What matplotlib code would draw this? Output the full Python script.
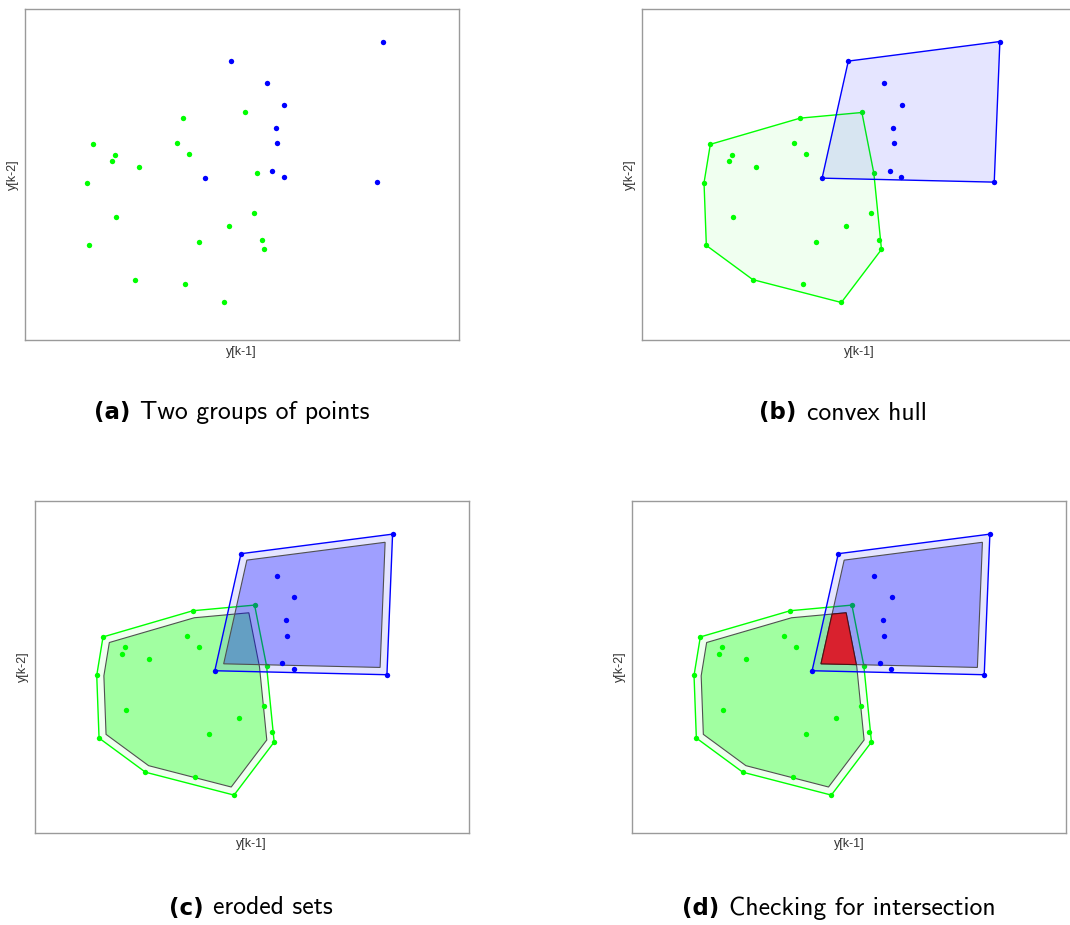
import numpy as np
import matplotlib
matplotlib.use("Agg")
import matplotlib.pyplot as plt
from matplotlib.patches import Polygon

# samples of the two groups in the (y[k-1], y[k-2]) plane
green_x = [4.77, 6.63, 2.06, 4.58, 2.72, 4.95, 2.63, 3.45, 6.99, 1.87,
           2.75, 6.91, 6.16, 1.94, 5.26, 7.16, 7.22, 3.34, 4.84, 6.01]
green_y = [6.70, 6.87, 5.91, 5.95, 5.60, 5.62, 5.40, 5.23, 5.04, 4.75,
           3.71, 3.83, 3.45, 2.86, 2.97, 3.03, 2.74, 1.83, 1.70, 1.14]
blue_x = [10.79, 6.22, 7.31, 7.83, 7.57, 7.60, 7.47, 7.82, 5.43, 10.62]
blue_y = [9.01, 8.42, 7.75, 7.11, 6.41, 5.94, 5.11, 4.93, 4.89, 4.77]

tags = ["(a)", "(b)", "(c)", "(d)"]
titles = ["Two groups of points", "convex hull", "eroded sets", "Checking for intersection"]

erosion = 0.215
GREEN = '#00ff00'
BLUE = '#0000ff'


def convexHull(pts):
    '''
    Monotone chain, returns the hull counter clockwise
    '''
    pts = sorted(set(map(tuple, pts)))
    def cross(o, a, b):
        return (a[0] - o[0]) * (b[1] - o[1]) - (a[1] - o[1]) * (b[0] - o[0])
    lower = []
    for p in pts:
        while len(lower) >= 2 and cross(lower[-2], lower[-1], p) <= 0:
            lower.pop()
        lower.append(p)
    upper = []
    for p in reversed(pts):
        while len(upper) >= 2 and cross(upper[-2], upper[-1], p) <= 0:
            upper.pop()
        upper.append(p)
    return np.array(lower[:-1] + upper[:-1])


def clipHalfPlane(poly, a, n, off):
    # keep the part of poly where n.(p - a) >= off
    res = []
    m = len(poly)
    for i in range(m):
        p = poly[i]
        q = poly[(i + 1) % m]
        dp = np.dot(n, p - a) - off
        dq = np.dot(n, q - a) - off
        if dp >= 0:
            res.append(p)
        if dp * dq < 0:
            t = dp / (dp - dq)
            res.append(p + t * (q - p))
    return np.array(res)


def shrink(poly, clipper, r):
    '''
    Clips poly with every inner half plane of the convex clipper moved inward by r
    r > 0 with poly == clipper gives the erosion by a disk, r = 0 the intersection
    '''
    out = poly
    for i in range(len(clipper)):
        a = clipper[i]
        e = clipper[(i + 1) % len(clipper)] - a
        n = np.array([-e[1], e[0]]) / np.hypot(e[0], e[1])
        out = clipHalfPlane(out, a, n, r)
    return out


green = np.column_stack([green_x, green_y])
blue = np.column_stack([blue_x, blue_y])
greenHull = convexHull(green)
blueHull = convexHull(blue)
greenEroded = shrink(greenHull, greenHull, erosion)
blueEroded = shrink(blueHull, blueHull, erosion)
overlap = shrink(greenEroded, blueEroded, 0)


def drawGroup(ax, pts, hull, eroded, color, hullAlpha, erodedAlpha):
    if hull is not None:
        ax.add_patch(Polygon(hull, closed=True, facecolor=color, alpha=hullAlpha, edgecolor='none', zorder=1))
    if eroded is not None:
        ax.add_patch(Polygon(eroded, closed=True, facecolor=color, alpha=erodedAlpha, edgecolor='none', zorder=1))
        ax.add_patch(Polygon(eroded, closed=True, facecolor='none', edgecolor='#505050', lw=0.8, zorder=1))
    if hull is not None:
        ax.add_patch(Polygon(hull, closed=True, facecolor='none', edgecolor=color, lw=1.0, zorder=1))
    ax.scatter(pts[:, 0], pts[:, 1], s=15, c=color, linewidths=0, zorder=1)


fig = plt.figure(figsize=(10.7, 9.25), dpi=100)
positions = [(24.7, 8.7), (642, 8.7), (34.7, 501.3), (632, 501.3)]
captionPos = [(231.7, 413), (843, 413), (251, 908), (838.5, 908)]
W, H = 1070.0, 925.0

axes = []
for (px, py) in positions:
    ax = fig.add_axes([px / W, 1 - (py + 331.6) / H, 434 / W, 331.6 / H])
    ax.set_xlim(0, 13.085)
    ax.set_ylim(0, 10)
    ax.set_xticks([])
    ax.set_yticks([])
    for s in ax.spines.values():
        s.set_color('#9a9a9a')
        s.set_linewidth(1.0)
    ax.set_xlabel('y[k-1]', fontsize=9, color='#333333', labelpad=4, family='Liberation Sans')
    ax.set_ylabel('y[k-2]', fontsize=9, color='#333333', labelpad=4, family='Liberation Sans')
    axes.append(ax)

# (a) raw points
drawGroup(axes[0], green, None, None, GREEN, 0, 0)
drawGroup(axes[0], blue, None, None, BLUE, 0, 0)
# (b) convex hulls
drawGroup(axes[1], green, greenHull, None, GREEN, 0.06, 0)
drawGroup(axes[1], blue, blueHull, None, BLUE, 0.1, 0)
# (c) eroded hulls
drawGroup(axes[2], green, greenHull, greenEroded, GREEN, 0.06, 0.33)
drawGroup(axes[2], blue, blueHull, blueEroded, BLUE, 0.1, 0.3)
# (d) eroded hulls and their intersection
drawGroup(axes[3], green, greenHull, greenEroded, GREEN, 0.06, 0.33)
drawGroup(axes[3], blue, blueHull, blueEroded, BLUE, 0.1, 0.3)
if len(overlap) > 2:
    axes[3].add_patch(Polygon(overlap, closed=True, facecolor='#e01a26', alpha=0.95,
                              edgecolor='#4a1010', lw=0.8, zorder=2))

# captions : bold tag followed by the title, centred together
renderer = fig.canvas.get_renderer()
for (cx, cy), tag, title in zip(captionPos, tags, titles):
    t1 = fig.text(0, 1 - cy / H, tag, fontsize=16.5, fontweight='bold', family='DejaVu Sans', va='center', ha='left')
    t2 = fig.text(0, 1 - cy / H, title, fontsize=18.5, family='cmss10', va='center', ha='left')
    w1 = t1.get_window_extent(renderer).width
    w2 = t2.get_window_extent(renderer).width
    gap = 10
    x0 = cx - (w1 + gap + w2) / 2
    t1.set_x(x0 / W)
    t2.set_x((x0 + w1 + gap) / W)

fig.savefig('out.png', dpi=100)
